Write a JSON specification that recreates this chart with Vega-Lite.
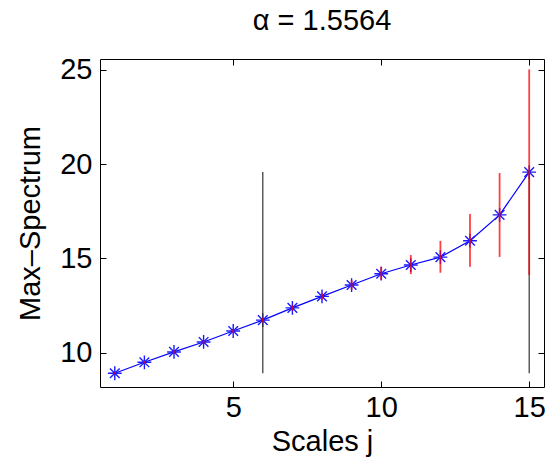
{
  "$schema": "https://vega.github.io/schema/vega-lite/v6.json",
  "autosize": "none",
  "width": 444,
  "height": 328,
  "padding": {"left": 100, "top": 59, "right": 6, "bottom": 79},
  "background": "white",
  "config": {
    "font": "Liberation Sans",
    "view": {"stroke": "black", "strokeWidth": 1},
    "axis": {"grid": false, "domain": false, "tickColor": "black", "labelColor": "black", "titleColor": "black", "labelFontSize": 29, "titleFontSize": 29, "titleFontWeight": "normal", "tickSize": -6, "tickWidth": 1}
  },
  "title": {"text": "α = 1.5564", "fontSize": 29, "fontWeight": "normal", "color": "black", "offset": 20, "font": "Liberation Sans"},
  "datasets": {
    "pts": [
      {"j": 1, "y": 8.91, "lo": 8.86, "hi": 8.96},
      {"j": 2, "y": 9.49, "lo": 9.43, "hi": 9.55},
      {"j": 3, "y": 10.04, "lo": 9.97, "hi": 10.11},
      {"j": 4, "y": 10.57, "lo": 10.49, "hi": 10.65},
      {"j": 5, "y": 11.15, "lo": 11.05, "hi": 11.25},
      {"j": 6, "y": 11.73, "lo": 11.61, "hi": 11.85},
      {"j": 7, "y": 12.38, "lo": 12.23, "hi": 12.53},
      {"j": 8, "y": 12.99, "lo": 12.81, "hi": 13.17},
      {"j": 9, "y": 13.59, "lo": 13.34, "hi": 13.84},
      {"j": 10, "y": 14.19, "lo": 13.86, "hi": 14.56},
      {"j": 11, "y": 14.65, "lo": 14.17, "hi": 15.18},
      {"j": 12, "y": 15.07, "lo": 14.24, "hi": 15.93},
      {"j": 13, "y": 15.94, "lo": 14.56, "hi": 17.36},
      {"j": 14, "y": 17.31, "lo": 15.08, "hi": 19.53},
      {"j": 15, "y": 19.58, "lo": 14.12, "hi": 25.03}
    ],
    "black": [
      {"j": 6, "lo": 8.91, "hi": 19.58},
      {"j": 15, "lo": 8.91, "hi": 19.58}
    ]
  },
  "resolve": {"axis": {"x": "independent", "y": "independent"}},
  "layer": [
    {
      "data": {"name": "pts"},
      "mark": {"type": "line", "color": "#0000ff", "strokeWidth": 1.2},
      "encoding": {
        "x": {"field": "j", "type": "quantitative", "scale": {"domain": [0.5, 15.5], "nice": false, "zero": false}, "axis": {"orient": "bottom", "values": [5, 10, 15], "title": "Scales j", "labelPadding": 12, "titlePadding": 5}},
        "y": {"field": "y", "type": "quantitative", "scale": {"domain": [8.18, 25.58], "nice": false, "zero": false}, "axis": {"orient": "left", "values": [10, 15, 20, 25], "title": "Max–Spectrum", "labelPadding": 14, "titlePadding": 14}}
      }
    },
    {
      "data": {"name": "pts"},
      "mark": {"type": "point", "shape": "M-1,0L1,0M0,-1L0,1M-0.7,-0.7L0.7,0.7M-0.7,0.7L0.7,-0.7", "filled": false, "color": "#1a1aff", "size": 190, "strokeWidth": 1.4, "opacity": 1},
      "encoding": {
        "x": {"field": "j", "type": "quantitative", "axis": {"orient": "top", "values": [5, 10, 15], "labels": false, "title": null}},
        "y": {"field": "y", "type": "quantitative", "axis": {"orient": "right", "values": [10, 15, 20, 25], "labels": false, "title": null}}
      }
    },
    {
      "data": {"name": "black"},
      "mark": {"type": "rule", "color": "#333333", "strokeWidth": 1.2},
      "encoding": {
        "x": {"field": "j", "type": "quantitative", "axis": null},
        "y": {"field": "lo", "type": "quantitative", "axis": null},
        "y2": {"field": "hi"}
      }
    },
    {
      "data": {"name": "pts"},
      "mark": {"type": "rule", "color": "#ff0000", "strokeWidth": 1.8, "opacity": 0.75},
      "encoding": {
        "x": {"field": "j", "type": "quantitative", "axis": null},
        "y": {"field": "lo", "type": "quantitative", "axis": null},
        "y2": {"field": "hi"}
      }
    }
  ]
}
